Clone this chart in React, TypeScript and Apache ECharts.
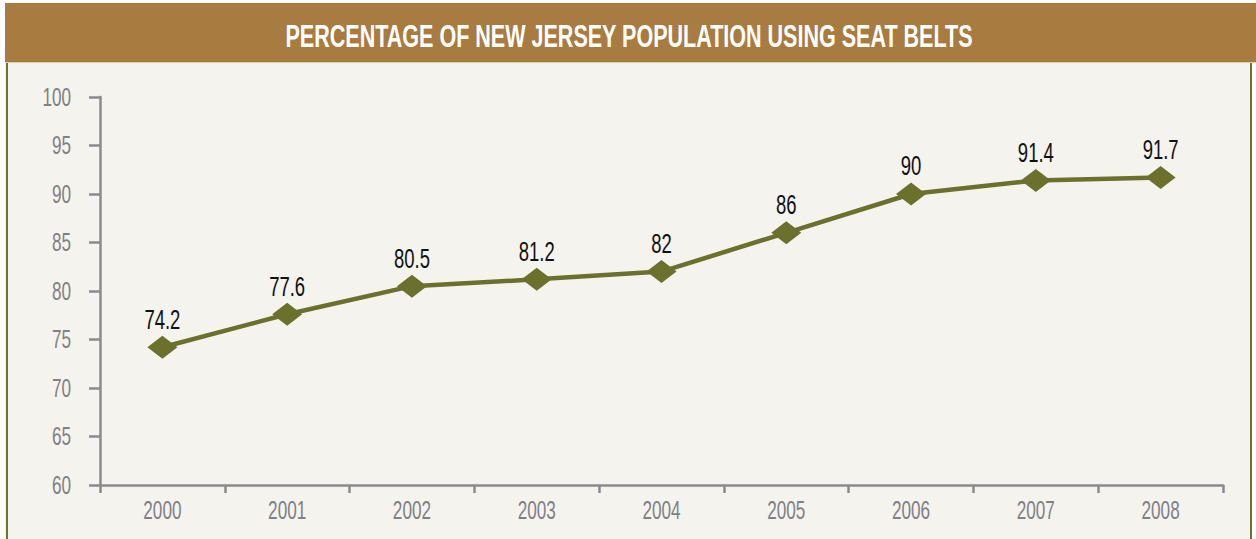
import React, { useEffect, useRef } from "react";
import * as echarts from "echarts";

const years = ["2000", "2001", "2002", "2003", "2004", "2005", "2006", "2007", "2008"];
const seatBeltUse = [74.2, 77.6, 80.5, 81.2, 82, 86, 90, 91.4, 91.7];
const yTicks = [60, 65, 70, 75, 80, 85, 90, 95, 100];
const title = "PERCENTAGE OF NEW JERSEY POPULATION USING SEAT BELTS";

const FONT = "'Liberation Sans', Arial, sans-serif";
const NARROW = 0.66;

function measure(text: string, font: string): number {
  const c = document.createElement("canvas").getContext("2d");
  if (!c) return text.length * 20;
  c.font = font;
  return c.measureText(text).width;
}

export default function App() {
  const ref = useRef<HTMLDivElement>(null);
  useEffect(() => {
    if (!ref.current) return;
    const chart = echarts.init(ref.current, undefined, { renderer: "svg" });
    const titleFont = `bold 32px ${FONT}`;
    const titleScale = 688 / measure(title, titleFont);
    const baseGraphics: any[] = [
      { type: "rect", shape: { x: 5, y: 62, width: 1247, height: 477 }, style: { fill: "#F5F3EE" }, z: -10 },
      { type: "rect", shape: { x: 5, y: 3, width: 1251, height: 59 }, style: { fill: "#A87B41" }, z: 0 },
      { type: "line", shape: { x1: 5, y1: 62.5, x2: 1256, y2: 62.5 }, style: { stroke: "#D9CFA8", lineWidth: 1 } },
      { type: "line", shape: { x1: 7, y1: 63, x2: 7, y2: 539 }, style: { stroke: "#6E7430", lineWidth: 2 } },
      { type: "line", shape: { x1: 1251, y1: 63, x2: 1251, y2: 539 }, style: { stroke: "#6E7430", lineWidth: 2 } },
      {
        type: "text",
        x: 629,
        y: 36,
        scaleX: titleScale,
        style: {
          text: title,
          fill: "#ffffff",
          font: titleFont,
          align: "center",
          verticalAlign: "middle",
        },
      },
    ];
    chart.setOption({
      animation: false,
      backgroundColor: "#ffffff",
      graphic: baseGraphics,
      grid: { left: 100, right: 33, top: 97, bottom: 54, containLabel: false },
      xAxis: {
        type: "category",
        data: years,
        boundaryGap: true,
        axisLine: { lineStyle: { color: "#8A8A8E", width: 2.5 } },
        axisTick: { show: true, length: 8, inside: false, lineStyle: { color: "#8A8A8E", width: 2.5 } },
        axisLabel: { show: false },
      },
      yAxis: {
        type: "value",
        min: 60,
        max: 100,
        interval: 5,
        splitLine: { show: false },
        axisLine: { show: true, lineStyle: { color: "#8A8A8E", width: 2.5 } },
        axisTick: { show: true, length: 11, lineStyle: { color: "#8A8A8E", width: 2.5 } },
        axisLabel: { show: false },
      },
      series: [
        {
          type: "line",
          data: seatBeltUse,
          lineStyle: { color: "#6B702D", width: 4.5 },
          itemStyle: { color: "#6B702D" },
          symbol: "diamond",
          symbolSize: [30, 23],
          label: { show: false },
        },
      ],
    });

    const labelFont = `26px ${FONT}`;
    const dataFont = `28px ${FONT}`;
    const extra: any[] = [];
    years.forEach((yr, i) => {
      const p = chart.convertToPixel({ xAxisIndex: 0, yAxisIndex: 0 } as any, [i, 60]) as number[];
      extra.push({
        type: "text",
        x: p[0],
        y: 510,
        scaleX: NARROW,
        style: { text: yr, fill: "#808085", font: labelFont, align: "center", verticalAlign: "middle" },
      });
    });
    yTicks.forEach((v) => {
      const p = chart.convertToPixel({ yAxisIndex: 0 } as any, v) as unknown as number;
      extra.push({
        type: "text",
        x: 71,
        y: p,
        scaleX: NARROW,
        style: { text: String(v), fill: "#808085", font: labelFont, align: "right", verticalAlign: "middle" },
      });
    });
    seatBeltUse.forEach((v, i) => {
      const p = chart.convertToPixel({ seriesIndex: 0 }, [i, v]) as number[];
      extra.push({
        type: "text",
        x: p[0],
        y: p[1] - 14,
        scaleX: NARROW,
        style: { text: String(v), fill: "#111111", font: dataFont, align: "center", verticalAlign: "bottom" },
      });
    });
    chart.setOption({ graphic: [...baseGraphics, ...extra] });
    return () => chart.dispose();
  }, []);
  return <div ref={ref} style={{ position: "absolute", left: 0, top: 0, width: 1256, height: 539 }} />;
}
